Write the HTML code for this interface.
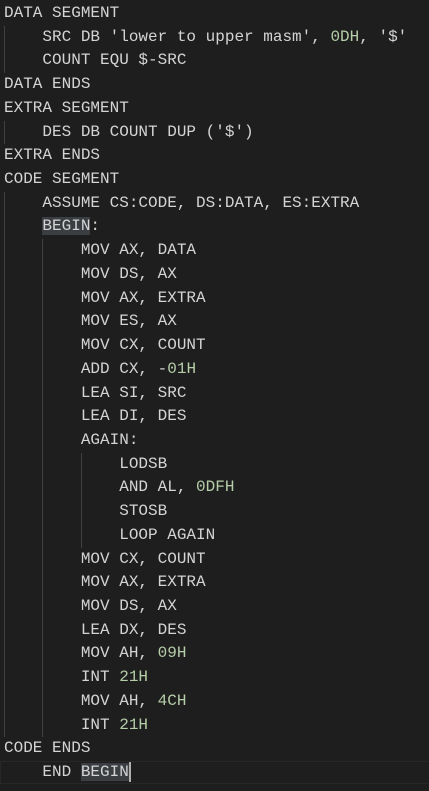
<!DOCTYPE html>
<html><head><meta charset="utf-8"><style>
html,body{margin:0;padding:0;background:#1e1e1e;width:429px;height:791px;overflow:hidden}
#c{position:absolute;left:4px;top:2px;font-family:"Liberation Mono",monospace;font-size:16px;color:#d4d4d4;white-space:pre}
.l{height:23.72px;line-height:23.72px}
.n{color:#b5cea8}
.g{position:absolute;width:1px;background:#404040}
.cur{position:absolute;left:0;top:761px;width:429px;height:21px;border:1px solid #282828;box-sizing:content-box}
.sel{background:#3a3d41}
</style></head><body>
<div class="cur"></div>
<div class="g" style="left:4px;top:25.7px;height:47.4px"></div>
<div class="g" style="left:4px;top:120.6px;height:23.7px"></div>
<div class="g" style="left:4px;top:191.8px;height:545.6px"></div>
<div class="g" style="left:42px;top:239.2px;height:498.2px"></div>
<div class="g" style="left:81px;top:452.7px;height:94.9px"></div>
<div id="c"><div class="l">DATA SEGMENT</div><div class="l">    SRC DB 'lower to upper masm', <span class="n">0DH</span>, '$'</div><div class="l">    COUNT EQU $-SRC</div><div class="l">DATA ENDS</div><div class="l">EXTRA SEGMENT</div><div class="l">    DES DB COUNT DUP ('$')</div><div class="l">EXTRA ENDS</div><div class="l">CODE SEGMENT</div><div class="l">    ASSUME CS:CODE, DS:DATA, ES:EXTRA</div><div class="l">    <span class="sel">BEGIN</span>:</div><div class="l">        MOV AX, DATA</div><div class="l">        MOV DS, AX</div><div class="l">        MOV AX, EXTRA</div><div class="l">        MOV ES, AX</div><div class="l">        MOV CX, COUNT</div><div class="l">        ADD CX, -<span class="n">01H</span></div><div class="l">        LEA SI, SRC</div><div class="l">        LEA DI, DES</div><div class="l">        AGAIN:</div><div class="l">            LODSB</div><div class="l">            AND AL, <span class="n">0DFH</span></div><div class="l">            STOSB</div><div class="l">            LOOP AGAIN</div><div class="l">        MOV CX, COUNT</div><div class="l">        MOV AX, EXTRA</div><div class="l">        MOV DS, AX</div><div class="l">        LEA DX, DES</div><div class="l">        MOV AH, <span class="n">09H</span></div><div class="l">        INT <span class="n">21H</span></div><div class="l">        MOV AH, <span class="n">4CH</span></div><div class="l">        INT <span class="n">21H</span></div><div class="l">CODE ENDS</div><div class="l">    END <span class="sel">BEGIN</span><span style="display:inline-block;width:2px;height:20px;background:#aeafad;vertical-align:middle"></span></div></div>
</body></html>
